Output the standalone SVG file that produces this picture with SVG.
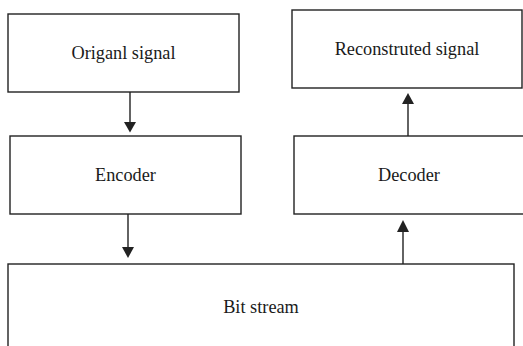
<svg xmlns="http://www.w3.org/2000/svg" width="523" height="346" viewBox="0 0 523 346">
<style>
.box{fill:#fff;stroke:#222;stroke-width:1.4}
.lbl{font-family:'Liberation Serif','Times New Roman',serif;font-size:18.3px;fill:#1a1a1a;text-anchor:middle}
.conn{stroke:#222;stroke-width:1.4;fill:none}
.head{fill:#222}
</style>
<rect width="523" height="346" fill="#fff"/>
<g id="orig">
<rect class="box" x="8" y="14" width="231" height="78"/>
<text class="lbl" x="123.5" y="59">Origanl signal</text>
</g>
<g id="encoder">
<rect class="box" x="10" y="136" width="231" height="78"/>
<text class="lbl" x="125.5" y="181">Encoder</text>
</g>
<g id="recon">
<rect class="box" x="292" y="10" width="230" height="78"/>
<text class="lbl" x="407" y="55">Reconstruted signal</text>
</g>
<g id="decoder">
<rect class="box" x="294" y="136" width="240" height="78"/>
<text class="lbl" x="409" y="181">Decoder</text>
</g>
<g id="bitstream">
<rect class="box" x="8" y="264" width="506" height="100"/>
<text class="lbl" x="261" y="313">Bit stream</text>
</g>
<g id="connectors">
<line class="conn" x1="130" y1="92" x2="130" y2="123"/>
<polygon class="head" points="124,122 136,122 130,132.5"/>
<line class="conn" x1="128" y1="214" x2="128" y2="248" stroke-width="1.1"/>
<polygon class="head" points="122,247 134,247 128,258"/>
<line class="conn" x1="408" y1="136" x2="408" y2="103"/>
<polygon class="head" points="402,104 414,104 408,93"/>
<line class="conn" x1="403" y1="264" x2="403" y2="231"/>
<polygon class="head" points="397,232 409,232 403,220"/>
</g>
</svg>
